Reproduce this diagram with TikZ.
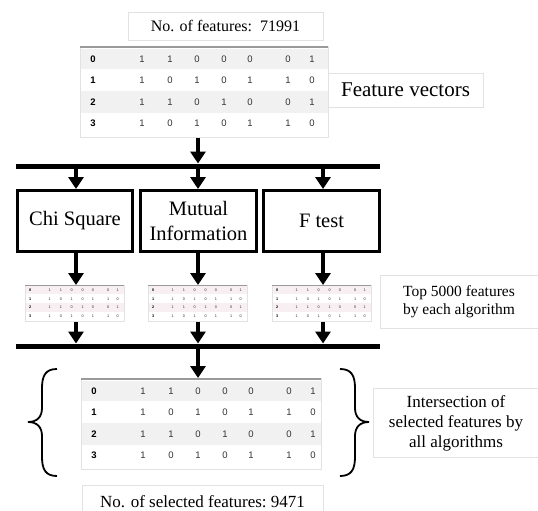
\documentclass[tikz,border=0pt]{standalone}
\usepackage{fontspec}
\setmainfont{Liberation Serif}
\newfontfamily\tabfont{Liberation Sans}
\usetikzlibrary{arrows.meta}
\definecolor{stripeg}{HTML}{F1F1F1}
\definecolor{stripep}{HTML}{F7EFF2}
\definecolor{faint}{HTML}{E2E2E2}
\definecolor{topline}{HTML}{9A9A9A}
\tikzset{
  arr/.style={line width=4pt, -{Triangle[width=15pt,length=12pt]}},
  bus/.style={line width=5pt},
  algbox/.style={draw, line width=3pt, minimum width=115pt, minimum height=61pt, inner sep=0pt,
    font=\fontsize{20.5}{25}\selectfont, align=center},
  lbl/.style={draw=faint, line width=0.8pt, fill=white, align=center, inner sep=0pt},
  cell/.style={font=\tabfont\fontsize{9.5}{10}\selectfont, inner sep=0pt, text=black!80},
  idx/.style={font=\tabfont\bfseries\fontsize{9.5}{10}\selectfont, inner sep=0pt},
  bracepath/.style={line width=1.8pt},
}
\newcommand\ftab[6]{%
\begin{scope}[shift={(#2,#3)}, scale=#5, transform shape]
  \fill[#6] (0,3) rectangle (#4,23);
  \fill[#6] (0,45) rectangle (#4,67);
  \node[draw=faint, line width=0.6pt, minimum width=#4pt, minimum height=91pt, inner sep=0pt, anchor=north west] (#1) at (0,0) {};
  \draw[topline, line width=1.5pt] (0,1) -- (#4,1);
  \foreach \r/\vals in {0/{1,1,0,0,0,0,1}, 1/{1,0,1,0,1,1,0}, 2/{1,1,0,1,0,0,1}, 3/{1,0,1,0,1,1,0}} {
    \node[idx] (#1-i\r) at (13, 13+21.5*\r) {\r};
    \foreach \v [count=\c] in \vals {
      \pgfmathsetmacro\cx{{62,90,117,144,170,208,232}[\c-1]}
      \node[cell] (#1-\r-\c) at (\cx, 13+21.5*\r) {\v};
    }
  }
\end{scope}}
\begin{document}
\begin{tikzpicture}[x=1pt, y=-1pt]
\clip (0,0) rectangle (538,511);
\fill[white] (0,0) rectangle (538,511);

% label boxes
\node[lbl, minimum width=195pt, minimum height=28pt, font=\fontsize{16}{19}\selectfont] (nf) at (225.5,26) {No. of features:\ \ 71991};
\node[lbl, minimum width=155pt, minimum height=34pt, font=\fontsize{21}{25}\selectfont] (fv) at (405.5,90) {Feature vectors};

% top table
\ftab{tt}{80}{46}{248}{1}{stripeg}

% bus coordinates
\coordinate (b1m) at (198,163.5);
\coordinate (b1l) at (76,166);
\coordinate (b1c) at (198,166);
\coordinate (b1r) at (323,166);
\draw[bus] (16,166) -- (380,166);
\draw[arr] (tt.south -| b1m) -- (b1m);

% algorithm boxes
\node[algbox] (chi) at (75,221) {Chi Square};
\node[algbox, minimum width=116pt] (mi) at (198.5,221) {Mutual\\Information};
\node[algbox, minimum width=116pt] (ft) at (321.5,221) {F test};

\draw[arr] (b1l) -- (b1l |- chi.north);
\draw[arr] (b1c) -- (b1c |- mi.north);
\draw[arr] (b1r) -- (b1r |- ft.north);

% small tables
\ftab{s1}{25}{285}{248}{0.4}{stripep}
\ftab{s2}{148}{285}{248}{0.4}{stripep}
\ftab{s3}{272}{285}{248}{0.4}{stripep}

\draw[arr] (chi.south -| b1l) -- (b1l |- s1.north);
\draw[arr] (mi.south -| b1c) -- (b1c |- s2.north);
\draw[arr] (ft.south -| b1r) -- (b1r |- s3.north);

\node[lbl, minimum width=158pt, minimum height=53pt, font=\fontsize{15.5}{18}\selectfont] (t5k) at (459,302) {Top 5000 features\\by each algorithm};

% second bus
\coordinate (b2l) at (76,343.5);
\coordinate (b2c) at (198,343.5);
\coordinate (b2r) at (323,343.5);
\coordinate (b2m) at (198,346);
\draw[bus] (16,346) -- (380,346);
\draw[arr] (s1.south -| b2l) -- (b2l);
\draw[arr] (s2.south -| b2c) -- (b2c);
\draw[arr] (s3.south -| b2r) -- (b2r);

% bottom table
\ftab{bt}{81}{378}{240}{1}{stripeg}
\draw[arr] (b2m) -- (b2m |- bt.north);

% braces
\draw[bracepath] (57,369) .. controls (46,369) and (42,375) .. (42,388) -- (42,408)
  .. controls (42,417) and (37,422) .. (28,422)
  .. controls (37,422) and (42,427) .. (42,436) -- (42,457)
  .. controls (42,470) and (46,476) .. (57,476);
\draw[bracepath] (340,369) .. controls (351,369) and (355,375) .. (355,388) -- (355,408)
  .. controls (355,417) and (360,422) .. (369,422)
  .. controls (360,422) and (355,427) .. (355,436) -- (355,457)
  .. controls (355,470) and (351,476) .. (340,476);

\node[lbl, minimum width=165pt, minimum height=69pt, font=\fontsize{17}{20}\selectfont] (inter) at (456,423) {Intersection of\\selected features by\\all algorithms};

\node[lbl, minimum width=241pt, minimum height=34pt, font=\fontsize{17}{20}\selectfont] (nsf) at (202.5,502) {No. of selected features:\ 9471};
\end{tikzpicture}
\end{document}
